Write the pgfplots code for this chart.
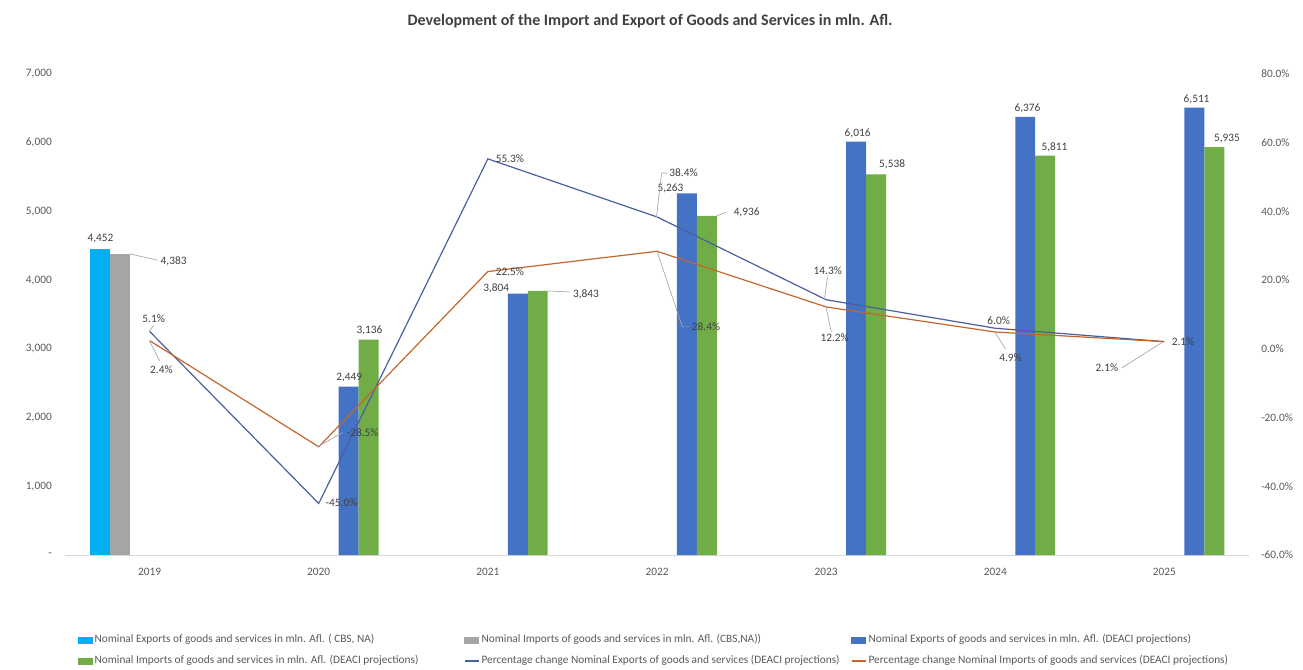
\documentclass[border=0pt]{standalone}
\usepackage{pgfplots}
\pgfplotsset{compat=1.18}
\usepackage{fontspec}
\setmainfont{Carlito}
\definecolor{cLB}{HTML}{00B0F0}
\definecolor{cGray}{HTML}{A5A5A5}
\definecolor{cBlue}{HTML}{4472C4}
\definecolor{cGreen}{HTML}{70AD47}
\definecolor{cLineBlue}{HTML}{4A5F9C}
\definecolor{cLineOrange}{HTML}{C4662B}
\definecolor{cTxt}{HTML}{595959}
\definecolor{cLab}{HTML}{404040}
\definecolor{cAxis}{HTML}{D9D9D9}
\definecolor{cLead}{HTML}{A6A6A6}
\newcommand{\lab}{\fontsize{8.5}{10}\selectfont}
\tikzset{
  dl/.style={font=\lab, text=cLab, inner sep=0pt, anchor=center},
  ld/.style={draw=cLead, line width=0.5pt},
}
\begin{document}
\begin{tikzpicture}
\useasboundingbox (0pt,0pt) rectangle (977.25pt,-502.5pt);
\node[font=\fontsize{12}{14}\selectfont\bfseries, text=cLab, inner sep=0pt] at (487.5pt,-15.5pt) {Development of the Import and Export of Goods and Services in mln. Afl.};

\begin{axis}[
  at={(48.75pt,-416.25pt)}, anchor=south west,
  scale only axis, width=888pt, height=360.75pt,
  xmin=-0.5, xmax=6.5, ymin=0, ymax=7000,
  axis x line*=bottom, axis y line*=left,
  y axis line style={draw=none},
  x axis line style={draw=cAxis, line width=0.75pt, -},
  xtick={0,1,2,3,4,5,6}, xticklabels={2019,2020,2021,2022,2023,2024,2025},
  ytick={0,1000,2000,3000,4000,5000,6000,7000},
  yticklabels={-\hspace{8pt},{1,000},{2,000},{3,000},{4,000},{5,000},{6,000},{7,000}},
  major tick length=0pt,
  tick label style={font=\lab, text=cTxt, inner sep=0pt},
  yticklabel style={anchor=east, xshift=-9.75pt},
  xticklabel style={anchor=north, yshift=-10pt},
  clip=false,
  legend columns=3,
  legend cell align=left,
  legend style={at={(0.011,-0.1663)}, anchor=north west, draw=none, fill=none,
    inner sep=0pt, outer sep=0pt, column sep=0pt, row sep=7.75pt,
    font=\lab, text=cTxt,
    nodes={inner sep=0pt, text height=6pt, text depth=2pt},
    /tikz/every odd column/.append style={column sep=1.5pt}},
]
\addlegendimage{legend image code/.code={\fill[cLB] (0pt,-2.25pt) rectangle (10.5pt,2.25pt);}}
\addlegendentry{\makebox[276.75pt][l]{Nominal Exports of goods and services in mln. Afl. ( CBS, NA)}}
\addlegendimage{legend image code/.code={\fill[cGray] (0pt,-2.25pt) rectangle (10.5pt,2.25pt);}}
\addlegendentry{\makebox[276.75pt][l]{Nominal Imports of goods and services in mln. Afl. (CBS,NA))}}
\addlegendimage{legend image code/.code={\fill[cBlue] (0pt,-2.25pt) rectangle (10.5pt,2.25pt);}}
\addlegendentry{\makebox[276.75pt][l]{Nominal Exports of goods and services in mln. Afl. (DEACI projections)}}
\addlegendimage{legend image code/.code={\fill[cGreen] (0pt,-2.25pt) rectangle (10.5pt,2.25pt);}}
\addlegendentry{\makebox[276.75pt][l]{Nominal Imports of goods and services in mln. Afl. (DEACI projections)}}
\addlegendimage{legend image code/.code={\path[draw=cLineBlue, line width=1.5pt] (0pt,0pt) -- (10.5pt,0pt);}}
\addlegendentry{\makebox[276.75pt][l]{Percentage change Nominal Exports of goods and services (DEACI projections)}}
\addlegendimage{legend image code/.code={\path[draw=cLineOrange, line width=1.5pt] (0pt,0pt) -- (10.5pt,0pt);}}
\addlegendentry{\makebox[276.75pt][l]{Percentage change Nominal Imports of goods and services (DEACI projections)}}

% Nominal Exports (CBS, NA)
\addplot[ybar, bar width=0.118, bar shift=0pt, fill=cLB, draw=none, forget plot]
  coordinates {(-0.295,4452)};
% Nominal Imports (CBS, NA)
\addplot[ybar, bar width=0.118, bar shift=0pt, fill=cGray, draw=none, forget plot]
  coordinates {(-0.177,4383)};
% Nominal Exports (DEACI projections)
\addplot[ybar, bar width=0.118, bar shift=0pt, fill=cBlue, draw=none, forget plot]
  coordinates {(1.177,2449) (2.177,3804) (3.177,5263) (4.177,6016) (5.177,6376) (6.177,6511)};
% Nominal Imports (DEACI projections)
\addplot[ybar, bar width=0.118, bar shift=0pt, fill=cGreen, draw=none, forget plot]
  coordinates {(1.295,3136) (2.295,3843) (3.295,4936) (4.295,5538) (5.295,5811) (6.295,5935)};

% leader lines for bar labels
\draw[ld] (axis cs:-0.118,4383) -- (axis cs:0.047,4290);
\draw[ld] (axis cs:2.354,3843) -- (axis cs:2.485,3828);
\draw[ld] (axis cs:3.354,4936) -- (axis cs:3.41,4990);

% bar labels
\node[dl] at (axis cs:-0.29,4599) {4,452};
\node[dl] at (axis cs:0.142,4279) {4,383};
\node[dl] at (axis cs:1.18,2576) {2,449};
\node[dl] at (axis cs:1.30,3275) {3,136};
\node[dl] at (axis cs:2.05,3886) {3,804};
\node[dl] at (axis cs:2.58,3799) {3,843};
\node[dl] at (axis cs:3.08,5341) {5,263};
\node[dl] at (axis cs:3.53,4992) {4,936};
\node[dl] at (axis cs:4.186,6142) {6,016};
\node[dl] at (axis cs:4.39,5690) {5,538};
\node[dl] at (axis cs:5.19,6506) {6,376};
\node[dl] at (axis cs:5.35,5938) {5,811};
\node[dl] at (axis cs:6.19,6637) {6,511};
\node[dl] at (axis cs:6.37,6054) {5,935};
\end{axis}

\begin{axis}[
  at={(48.75pt,-416.25pt)}, anchor=south west,
  scale only axis, width=888pt, height=360.75pt,
  xmin=-0.5, xmax=6.5, ymin=-60, ymax=80,
  axis x line=none, axis y line*=right,
  y axis line style={draw=none},
  ytick={-60,-40,-20,0,20,40,60,80},
  yticklabels={-60.0\%,-40.0\%,-20.0\%,0.0\%,20.0\%,40.0\%,60.0\%,80.0\%},
  major tick length=0pt,
  tick label style={font=\lab, text=cTxt, inner sep=0pt},
  yticklabel style={anchor=west, xshift=9pt},
  clip=false,
]
% Percentage change Nominal Exports
\addplot[cLineBlue, line width=0.9pt, mark=none] coordinates {
  (0,5.1) (1,-45.0) (2,55.3) (3,38.4) (4,14.3) (5,6.0) (6,2.1)};
% Percentage change Nominal Imports
\addplot[cLineOrange, line width=0.9pt, mark=none] coordinates {
  (0,2.4) (1,-28.5) (2,22.5) (3,28.4) (4,12.2) (5,4.9) (6,2.1)};

% leader lines
\draw[ld] (axis cs:0,5.3) -- (axis cs:0.024,6.8);
\draw[ld] (axis cs:2.997,38.4) -- (axis cs:3.027,51.2) -- (axis cs:3.062,51.2);
\draw[ld] (axis cs:3.99,14.5) -- (axis cs:4.008,21.0);
\draw[ld] (axis cs:0,2.2) -- (axis cs:0.06,-3.5);
\draw[ld] (axis cs:0.993,-28.5) -- (axis cs:1.141,-24.4);
\draw[ld] (axis cs:3.0,28.4) -- (axis cs:3.15,6.4) -- (axis cs:3.19,6.4);
\draw[ld] (axis cs:4.0,12.0) -- (axis cs:4.03,4.9);
\draw[ld] (axis cs:5.0,4.7) -- (axis cs:5.06,0.0);
\draw[ld] (axis cs:5.99,2.0) -- (axis cs:5.75,-5.5);

% percentage labels: exports
\node[dl] at (axis cs:0.024,8.7) {5.1\%};
\node[dl] at (axis cs:1.135,-44.8) {-45.0\%};
\node[dl] at (axis cs:2.13,55.3) {55.3\%};
\node[dl] at (axis cs:3.157,51.2) {38.4\%};
\node[dl] at (axis cs:4.01,22.7) {14.3\%};
\node[dl] at (axis cs:5.02,8.1) {6.0\%};
\node[dl] at (axis cs:6.11,2.0) {2.1\%};
% percentage labels: imports
\node[dl] at (axis cs:0.07,-6.1) {2.4\%};
\node[dl] at (axis cs:1.26,-24.4) {-28.5\%};
\node[dl] at (axis cs:2.13,22.4) {22.5\%};
\node[dl] at (axis cs:3.29,6.4) {28.4\%};
\node[dl] at (axis cs:4.05,3.2) {12.2\%};
\node[dl] at (axis cs:5.09,-2.6) {4.9\%};
\node[dl] at (axis cs:5.66,-5.5) {2.1\%};
\end{axis}
\end{tikzpicture}
\end{document}
